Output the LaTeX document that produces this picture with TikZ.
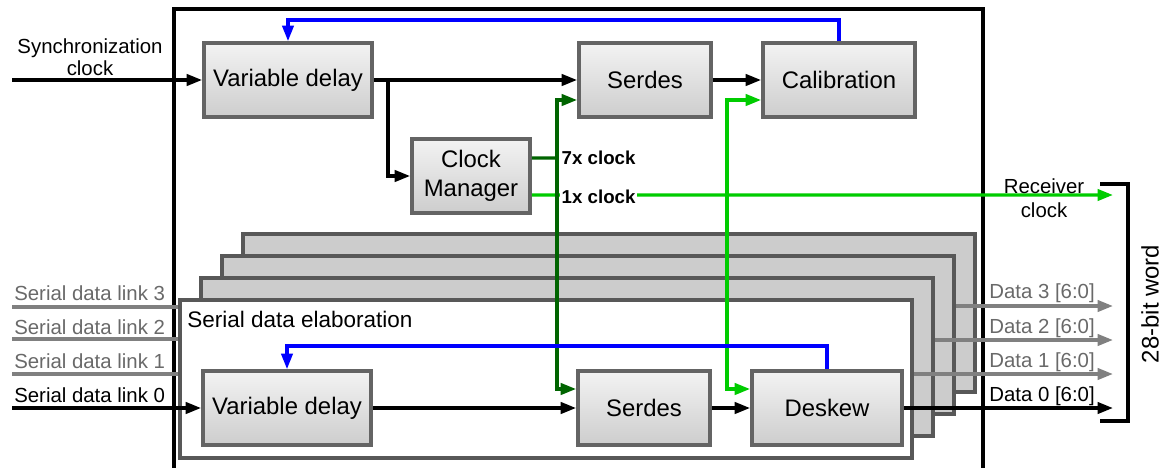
\documentclass[tikz,border=0pt]{standalone}
\usepackage{fontspec}
\setmainfont{Liberation Sans}
\usetikzlibrary{arrows.meta}
\definecolor{boxline}{RGB}{100,100,100}
\definecolor{boxtop}{RGB}{243,243,243}
\definecolor{boxbot}{RGB}{205,205,205}
\definecolor{stackline}{RGB}{88,88,88}
\definecolor{stackfill}{RGB}{204,204,204}
\definecolor{datagray}{RGB}{128,128,128}
\definecolor{textgray}{RGB}{105,105,105}
\definecolor{clkfast}{RGB}{0,100,0}
\definecolor{clkslow}{RGB}{0,204,0}
\begin{document}
\begin{tikzpicture}[x=0.025cm,y=-0.025cm,
  blk/.style={draw=boxline,line width=2.6pt,top color=boxtop,bottom color=boxbot,
    minimum height=1.85cm,inner sep=0pt,align=center,font=\fontsize{17}{21}\selectfont},
  stack/.style={draw=stackline,line width=2.6pt,fill=stackfill,
    minimum width=18.3cm,minimum height=3.95cm,inner sep=0pt},
  tip/.tip={Triangle[length=11pt,width=8pt]},
  sig/.style={line width=2.4pt,-tip},
  link/.style={line width=2.4pt,datagray},
  fb/.style={line width=2.2pt,blue,-tip},
  lbl/.style={inner sep=0pt,anchor=base west,font=\fontsize{14.5}{17}\selectfont},
  clklbl/.style={inner sep=1pt,anchor=west,font=\fontsize{13.3}{16}\selectfont\bfseries}]
\useasboundingbox (0,0) rectangle (1162,467);

\node[stack] (elab3) at (609,313) {};
\node[stack] (elab2) at (588,335) {};
\node[stack] (elab1) at (567,357) {};
\node[stack,fill=white] (elab0) at (546,379) {};
\node[lbl,font=\fontsize{16}{19}\selectfont] (elabtxt) at (187,327) {Serial data elaboration};

\draw[line width=2.6pt] (174,470) |- (983,9) -- (983,470);

\node[blk,minimum width=4.2cm] (vdA) at (288,80) {Variable delay};
\node[blk,minimum width=3.3cm] (serdesA) at (645,80) {Serdes};
\node[blk,minimum width=3.8cm] (calib) at (839,80) {Calibration};
\node[blk,minimum width=2.95cm] (cm) at (471,176) {Clock\\Manager};
\node[blk,minimum width=4.2cm] (vdB) at (287,408) {Variable delay};
\node[blk,minimum width=3.3cm] (serdesB) at (644,408) {Serdes};
\node[blk,minimum width=3.75cm] (deskew) at (827,408) {Deskew};

\coordinate (syncin) at (12,80);
\coordinate (br) at (388,80);
\coordinate (j7) at (557,158);
\coordinate (j1) at (727,195);
\coordinate (rx) at (1113,195);
\coordinate (fbA) at (0,20);
\coordinate (fbB) at (0,346);

\node[align=center,inner sep=0pt,font=\fontsize{14.5}{16}\selectfont] (synctxt) at (90,57) {Synchronization\\clock};
\draw[sig] (syncin) -- (vdA.west);
\draw[sig] (vdA.east) -- (serdesA.west);
\draw[sig] (br) |- (cm.west);
\draw[sig] (serdesA.east) -- (calib.west);
\draw[fb] (calib.north) -- (calib.north |- fbA) -| (vdA.north);

\draw[line width=2.4pt,clkslow,-tip] ([yshift=-0.475cm]cm.east) -- (rx);
\draw[line width=2.4pt,clkslow,-tip] (j1) |- ([yshift=-0.5cm]calib.west);
\draw[line width=2.4pt,clkslow,-tip] (j1) |- ([yshift=0.475cm]deskew.west);
\node[clklbl,fill=white] (x1txt) at (560,197) {1x clock};
\draw[line width=2.4pt,clkfast] ([yshift=0.45cm]cm.east) -- (j7);
\draw[line width=2.4pt,clkfast,-tip] (j7) |- ([yshift=-0.5cm]serdesA.west);
\draw[line width=2.4pt,clkfast,-tip] (j7) |- ([yshift=0.475cm]serdesB.west);
\node[clklbl] (x7txt) at (560,158) {7x clock};
\node[align=center,inner sep=0pt,font=\fontsize{14.5}{17}\selectfont] (rxtxt) at (1044,198) {Receiver\\clock};

\coordinate (l3) at (12,307);
\coordinate (l2) at (12,339);
\coordinate (l1) at (12,374);
\coordinate (l0) at (12,408);
\node[lbl,textgray] (l3txt) at (14,300) {Serial data link 3};
\node[lbl,textgray] (l2txt) at (14,334) {Serial data link 2};
\node[lbl,textgray] (l1txt) at (14,368) {Serial data link 1};
\node[lbl] (l0txt) at (14,402) {Serial data link 0};
\draw[link] (l3) -- (l3 -| elab0.west);
\draw[link] (l2) -- (l2 -| elab0.west);
\draw[link] (l1) -- (l1 -| elab0.west);
\draw[sig] (l0) -- (vdB.west);
\draw[fb] (deskew.north) -- (deskew.north |- fbB) -| (vdB.north);
\draw[sig] (vdB.east) -- (serdesB.west);
\draw[sig] (serdesB.east) -- (deskew.west);

\coordinate (d3) at (1113,306);
\coordinate (d2) at (1113,340);
\coordinate (d1) at (1113,374);
\coordinate (d0) at (1113,408);
\draw[link,-tip] (d3 -| elab2.east) -- (d3);
\draw[link,-tip] (d2 -| elab1.east) -- (d2);
\draw[link,-tip] (d1 -| elab0.east) -- (d1);
\draw[sig] (deskew.east) -- (d0);
\node[lbl,textgray] (d3txt) at (989,298) {Data 3 [6:0]};
\node[lbl,textgray] (d2txt) at (989,333) {Data 2 [6:0]};
\node[lbl,textgray] (d1txt) at (989,367) {Data 1 [6:0]};
\node[lbl] (d0txt) at (989,401) {Data 0 [6:0]};

\coordinate (wtop) at (1100,184);
\coordinate (wbot) at (1100,421);
\draw[line width=2.6pt] (wtop) -- ++(28,0) |- (wbot);
\node[rotate=90,inner sep=0pt,font=\fontsize{17}{20}\selectfont] (wordtxt) at (1150,304) {28-bit word};
\end{tikzpicture}
\end{document}
